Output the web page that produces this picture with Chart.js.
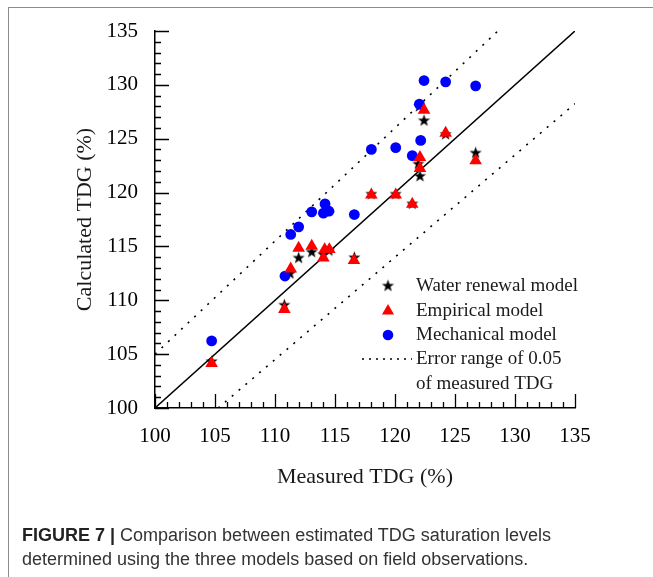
<!DOCTYPE html>
<html>
<head>
<meta charset="utf-8">
<script src="https://cdn.jsdelivr.net/npm/chart.js@4.4.1/dist/chart.umd.min.js"></script>
<style>
  html, body { margin: 0; padding: 0; background: #fff; }
  body { width: 653px; height: 577px; position: relative; overflow: hidden; }
  #frame { position: absolute; left: 8px; top: 7px; width: 700px; height: 700px;
           border-left: 1px solid #8c8c8c; border-top: 1px solid #8c8c8c; }
  #wrap { position: absolute; left: 0; top: 0; width: 653px; height: 577px; }
  #caption { position: absolute; left: 22px; top: 523px; width: 630px;
             font-family: "Liberation Sans", Arial, sans-serif; font-size: 18px;
             line-height: 24px; color: #333; white-space: nowrap; }
  #caption b { color: #222; }
</style>
</head>
<body>
<div id="frame"></div>
<div id="wrap"><canvas id="c" width="653" height="577"></canvas></div>
<div id="caption"><b>FIGURE 7 |</b> Comparison between estimated TDG saturation levels<br>determined using the three models based on field observations.</div>
<script>
// ---- data ----
const waterX = [104.72, 110.78, 111.25, 111.97, 113.06, 114.03, 114.50, 116.61, 118.03, 120.06, 121.44, 121.94, 122.08, 122.42, 124.22, 126.72, 122.03];
const waterY = [104.30, 109.55, 112.47, 113.92, 114.47, 114.23, 114.60, 113.95, 119.85, 119.85, 118.95, 122.65, 121.51, 126.67, 125.40, 123.67, 128.00];

const empX = [104.72, 110.78, 111.31, 111.97, 113.06, 114.03, 114.14, 114.53, 116.58, 118.03, 120.06, 121.44, 122.08, 122.08, 122.42, 124.22, 126.72];
const empY = [104.14, 109.17, 112.93, 114.84, 115.03, 113.95, 114.72, 114.72, 113.70, 119.78, 119.78, 118.92, 123.27, 122.25, 127.65, 125.52, 122.96];

const mechX = [104.72, 110.83, 111.31, 111.97, 113.06, 114.17, 114.03, 114.50, 116.61, 118.03, 120.06, 121.44, 122.14, 122.03, 122.42, 124.22, 126.72];
const mechY = [106.23, 112.25, 116.11, 116.82, 118.21, 118.95, 118.09, 118.27, 117.96, 124.01, 124.17, 123.43, 124.84, 128.21, 130.40, 130.28, 129.91];

const lineX = [100, 135];        // 1:1 line
const lineY = [100, 135];
const upperX = [100, 128.57];    // +5 % line
const upperY = [105, 135];
const lowerX = [105.26, 135];    // -5 % line
const lowerY = [100, 128.25];

const xTickValues = [100, 105, 110, 115, 120, 125, 130, 135];
const yTickValues = [100, 105, 110, 115, 120, 125, 130, 135];

const legendLabels = ["Water renewal model", "Empirical model", "Mechanical model", "Error range of 0.05", "of measured TDG"];

const pts = (xs, ys) => xs.map((x, i) => ({ x: x, y: ys[i] }));

// filled five-point star image
function makeStar(outer, inner, color) {
  const s = Math.ceil(outer * 2 + 2);
  const cv = document.createElement('canvas');
  cv.width = s; cv.height = s;
  const g = cv.getContext('2d');
  g.fillStyle = color;
  g.beginPath();
  for (let i = 0; i < 10; i++) {
    const r = i % 2 === 0 ? outer : inner;
    const a = -Math.PI / 2 + i * Math.PI / 5;
    const px = s / 2 + r * Math.cos(a), py = s / 2 + r * Math.sin(a);
    if (i === 0) g.moveTo(px, py); else g.lineTo(px, py);
  }
  g.closePath();
  g.fill();
  return cv;
}
const starImg = makeStar(6.4, 2.6, '#000');

const serif = "'Liberation Serif', 'Times New Roman', serif";

const innerTicks = {
  id: 'innerTicks',
  afterDraw(chart) {
    const ctx = chart.ctx;
    const xs = chart.scales.x, ys = chart.scales.y;
    const a = chart.chartArea;
    ctx.save();
    ctx.strokeStyle = '#000';
    ctx.lineWidth = 1.3;
    ctx.beginPath();
    for (let v = xs.min; v <= xs.max + 1e-9; v += 1) {
      const p = Math.round(xs.getPixelForValue(v)) + 0.5;
      const len = (Math.round(v) % 5 === 0) ? 14 : 6;
      ctx.moveTo(p, a.bottom); ctx.lineTo(p, a.bottom - len);
    }
    for (let v = ys.min; v <= ys.max + 1e-9; v += 1) {
      const p = Math.round(ys.getPixelForValue(v)) + 0.5;
      const len = (Math.round(v) % 5 === 0) ? 14 : 6;
      ctx.moveTo(a.left, p); ctx.lineTo(a.left + len, p);
    }
    ctx.stroke();
    ctx.restore();
  }
};

const customLegend = {
  id: 'customLegend',
  afterDraw(chart) {
    const ctx = chart.ctx;
    ctx.save();
    const mx = 388, tx = 416;
    const rows = [286, 311, 335, 359, 384];
    // star
    ctx.drawImage(starImg, mx - starImg.width / 2, rows[0] - starImg.height / 2);
    // triangle
    const r = 7;
    ctx.fillStyle = '#ff0000';
    ctx.beginPath();
    for (let i = 0; i < 3; i++) {
      const ang = i * 2 * Math.PI / 3;
      const px = mx + Math.sin(ang) * r, py = rows[1] - Math.cos(ang) * r;
      if (i === 0) ctx.moveTo(px, py); else ctx.lineTo(px, py);
    }
    ctx.closePath(); ctx.fill();
    // circle
    ctx.fillStyle = '#0000ff';
    ctx.beginPath(); ctx.arc(mx, rows[2], 5.3, 0, Math.PI * 2); ctx.fill();
    // dotted line
    ctx.strokeStyle = '#000'; ctx.lineWidth = 1.5; ctx.setLineDash([2, 5]);
    ctx.beginPath(); ctx.moveTo(362, rows[3]); ctx.lineTo(412, rows[3]); ctx.stroke();
    ctx.setLineDash([]);
    // texts
    ctx.fillStyle = '#1a1a1a';
    ctx.font = "19px " + serif;
    ctx.textBaseline = 'middle';
    ctx.textAlign = 'left';
    legendLabels.forEach((t, i) => ctx.fillText(t, tx, rows[i]));
    ctx.restore();
  }
};

new Chart(document.getElementById('c'), {
  type: 'scatter',
  data: {
    datasets: [
      { label: 'Error range upper', type: 'line', data: pts(upperX, upperY), borderColor: '#000',
        borderWidth: 1.6, borderDash: [2, 7], pointRadius: 0, fill: false, order: 10 },
      { label: 'Error range lower', type: 'line', data: pts(lowerX, lowerY), borderColor: '#000',
        borderWidth: 1.6, borderDash: [2, 7], pointRadius: 0, fill: false, order: 10 },
      { label: '1:1', type: 'line', data: pts(lineX, lineY), borderColor: '#000',
        borderWidth: 1.5, pointRadius: 0, fill: false, order: 9 },
      { label: legendLabels[0], data: pts(waterX, waterY), pointStyle: starImg, pointRadius: 6, order: 3 },
      { label: legendLabels[2], data: pts(mechX, mechY), pointStyle: 'circle', pointRadius: 5.4,
        backgroundColor: '#0000ff', borderWidth: 0, order: 2 },
      { label: legendLabels[1], data: pts(empX, empY), pointStyle: 'triangle', pointRadius: 7.3,
        backgroundColor: '#ff0000', borderWidth: 0, order: 1 }
    ]
  },
  options: {
    responsive: false,
    animation: false,
    events: [],
    layout: { padding: { left: 0, top: 31, right: 78, bottom: 0 } },
    plugins: { legend: { display: false }, tooltip: { enabled: false } },
    scales: {
      x: {
        type: 'linear', min: 100, max: 135,
        afterBuildTicks: s => { s.ticks = xTickValues.map(v => ({ value: v })); },
        afterFit: s => { s.height = 169; },
        grid: { drawOnChartArea: false, drawTicks: false },
        border: { display: true, color: '#000', width: 1.5 },
        ticks: { color: '#000', padding: 16, maxRotation: 0, font: { family: serif, size: 21 } },
        title: { display: true, text: 'Measured TDG (%)', color: '#1a1a1a',
                 font: { family: serif, size: 22 }, padding: { top: 0, bottom: 87 } }
      },
      y: {
        type: 'linear', min: 100, max: 135,
        afterBuildTicks: s => { s.ticks = yTickValues.map(v => ({ value: v })); },
        afterFit: s => { s.width = 155; },
        grid: { drawOnChartArea: false, drawTicks: false },
        border: { display: true, color: '#000', width: 1.5 },
        ticks: { color: '#000', padding: 17, font: { family: serif, size: 21 } },
        title: { display: true, text: 'Calculated TDG (%)', color: '#1a1a1a',
                 font: { family: serif, size: 22 }, padding: { top: 72, bottom: 0 } }
      }
    }
  },
  plugins: [innerTicks, customLegend]
});
</script>
</body>
</html>
